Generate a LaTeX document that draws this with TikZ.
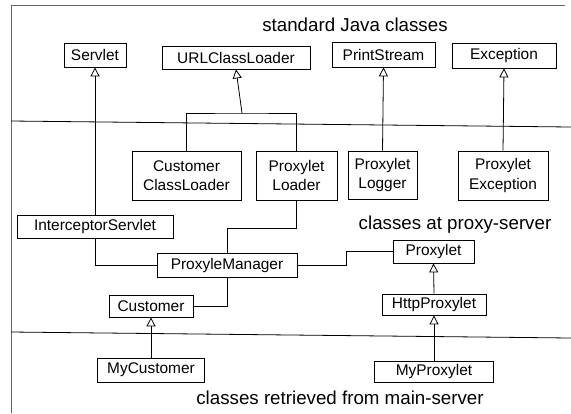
\documentclass[tikz,border=0pt]{standalone}
\usepackage{fontspec}
\setmainfont{Liberation Sans}
\usetikzlibrary{arrows.meta}
\begin{document}
\begin{tikzpicture}[x=1bp,y=-1bp,
  box/.style={draw, line width=0.8bp, inner sep=0pt, font=\fontsize{15.5}{19.5}\selectfont, align=center},
  lbl/.style={inner sep=0pt, font=\fontsize{18.8}{22}\selectfont},
  link/.style={line width=0.8bp},
  inh/.style={line width=0.8bp, -{Triangle[open, width=9bp, length=9bp, line width=0.8bp]}},
  frame/.style={line width=1bp, draw=black!60}]
\useasboundingbox (0,0) rectangle (571,413);
% frame and dividers
\draw[frame] (11,413) -- (11,5) -- (565,5);
\draw[link] (11,121) -- (571,127);
\draw[link] (11,332) -- (571,338);
% labels
\node[lbl] (t1) at (355,25) {standard Java classes};
\node[lbl] (t2) at (455,225) {classes at proxy-server};
\node[lbl] (t3) at (340,398) {classes retrieved from main-server};
% standard classes
\node[box, minimum width=62bp, minimum height=24bp] (servlet) at (95,55) {Servlet};
\node[box, minimum width=148bp, minimum height=23bp] (url) at (236,57.5) {URLClassLoader};
\node[box, minimum width=103bp, minimum height=25bp] (ps) at (383.5,54.5) {PrintStream};
\node[box, minimum width=104bp, minimum height=25bp] (exc) at (504,55.5) {Exception};
% proxy-server classes
\node[box, minimum width=109bp, minimum height=49bp] (ccl) at (186.5,175.5) {Customer\\ClassLoader};
\node[box, minimum width=81bp, minimum height=49bp] (pl) at (296.5,175.5) {Proxylet\\Loader};
\node[box, minimum width=69bp, minimum height=48bp] (plog) at (382.5,175) {Proxylet\\Logger};
\node[box, minimum width=90bp, minimum height=49bp] (pexc) at (503,175.5) {Proxylet\\Exception};
\node[box, minimum width=156bp, minimum height=23bp] (isv) at (95,226.5) {InterceptorServlet};
\node[box, minimum width=140bp, minimum height=24bp] (pm) at (227,265) {ProxyleManager};
\node[box, minimum width=84bp, minimum height=22bp] (cust) at (151,306) {Customer};
\node[box, minimum width=81bp, minimum height=23bp] (proxylet) at (433.5,251.5) {Proxylet};
\node[box, minimum width=104bp, minimum height=21bp] (http) at (434,304.5) {HttpProxylet};
% main-server classes
\node[box, minimum width=107bp, minimum height=24bp] (mycust) at (151,370) {MyCustomer};
\node[box, minimum width=119bp, minimum height=21bp] (myprox) at (434,371.5) {MyProxylet};
% inheritance
\coordinate (j1) at (242,113);
\draw[link] (ccl.north) |- (j1) -| (pl.north);
\draw[inh] (j1) -- (url.south);
\draw[inh] (isv.north) -- (servlet.south);
\draw[inh] (plog.north) -- (ps.south);
\draw[inh] (pexc.north) -- (exc.south);
\draw[inh] (http.north) -- (proxylet.south);
\draw[inh] (myprox.north) -- (http.south);
\draw[inh] (mycust.north) -- (cust.south);
% associations
\coordinate (k1) at (227,228);
\draw[link] (pl.south) |- (k1) -- (pm.north);
\draw[link] (isv.south) |- (pm.west);
\draw[link] (pm.south) |- (cust.east);
\coordinate (k2) at (346,265);
\draw[link] (pm.east) -- (k2) |- (proxylet.west);
\end{tikzpicture}
\end{document}
